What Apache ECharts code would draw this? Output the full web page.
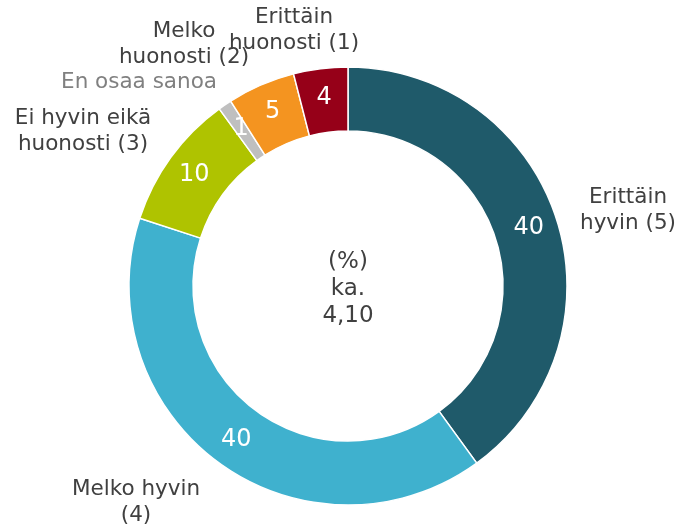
<!DOCTYPE html>
<html>
<head>
<meta charset="utf-8">
<script src="https://cdn.jsdelivr.net/npm/echarts@6/dist/echarts.min.js"></script>
<style>
  html, body { margin: 0; padding: 0; background: #ffffff; }
  #chart { width: 682px; height: 530px; }
</style>
</head>
<body>
<div id="chart"></div>
<script>
// Answer categories, clockwise from 12 o'clock
const categories = [
  'Erittäin\nhyvin (5)',
  'Melko hyvin\n(4)',
  'Ei hyvin eikä\nhuonosti (3)',
  'En osaa sanoa',
  'Melko\nhuonosti (2)',
  'Erittäin\nhuonosti (1)'
];
// Share of respondents (%)
const values = [40, 40, 10, 1, 5, 4];
const colors = ['#1F5A6A', '#3FB1CE', '#AFC300', '#BFBFBF', '#F49420', '#960018'];
const categoryLabelColors = ['#404040', '#404040', '#404040', '#808080', '#404040', '#404040'];
const centerText = ['(%)', 'ka.', '4,10'];

// Anchor points for the category captions around the ring
const captionAnchors = [
  [628, 210], [136, 502], [83, 131], [139, 82], [184, 44], [294, 30]
];

const FONT = '"DejaVu Sans", Verdana, sans-serif';
const cx = 348, cy = 286;

const chart = echarts.init(document.getElementById('chart'), null, { renderer: 'canvas' });

const ringData = categories.map((name, i) => ({
  name: name,
  value: values[i],
  itemStyle: { color: colors[i] }
}));

chart.setOption({
  animation: false,
  series: [
    {
      type: 'pie',
      center: [cx, cy],
      radius: [155, 219],
      startAngle: 90,
      clockwise: true,
      avoidLabelOverlap: false,
      itemStyle: { borderColor: '#ffffff', borderWidth: 1.5 },
      label: {
        show: true,
        position: 'inside',
        formatter: p => String(p.value),
        color: '#ffffff',
        fontFamily: FONT,
        fontSize: 24
      },
      labelLine: { show: false },
      data: ringData
    },
    {
      type: 'pie',
      center: [cx, cy],
      radius: [155, 219],
      startAngle: 90,
      clockwise: true,
      silent: true,
      avoidLabelOverlap: false,
      itemStyle: { color: 'rgba(0,0,0,0)' },
      label: {
        show: true,
        position: 'outside',
        formatter: p => p.name,
        fontFamily: FONT,
        fontSize: 21.5,
        lineHeight: 26,
        align: 'center'
      },
      labelLine: { show: false },
      labelLayout: p => ({
        x: captionAnchors[p.dataIndex][0],
        y: captionAnchors[p.dataIndex][1],
        align: 'center',
        verticalAlign: 'middle'
      }),
      data: categories.map((name, i) => ({
        name: name,
        value: values[i],
        label: { color: categoryLabelColors[i] }
      }))
    }
  ],
  graphic: [{
    type: 'text',
    x: cx,
    y: cy + 3,
    style: {
      text: centerText.join('\n'),
      font: '23px ' + FONT,
      lineHeight: 27,
      fill: '#404040',
      align: 'center',
      verticalAlign: 'middle'
    }
  }]
});
</script>
</body>
</html>
